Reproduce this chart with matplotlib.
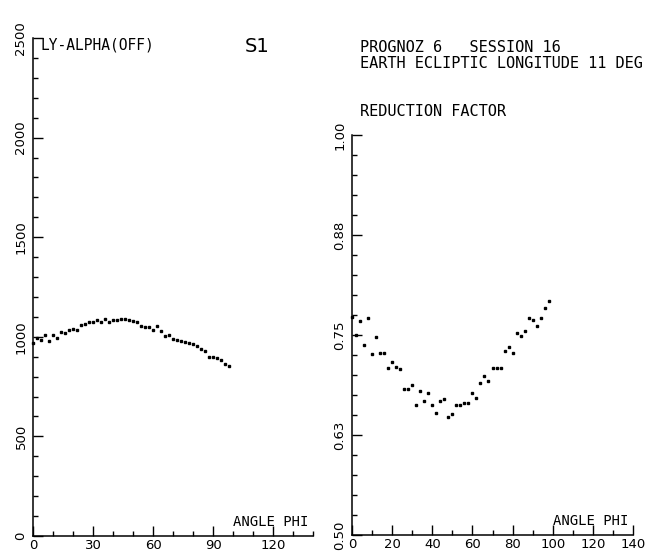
import matplotlib
matplotlib.use("Agg")
import matplotlib.pyplot as plt
from matplotlib.ticker import FixedLocator, FixedFormatter, MultipleLocator

# ---- data ----
phi = [0, 2, 4, 6, 8, 10, 12, 14, 16, 18, 20, 22, 24, 26, 28, 30, 32, 34, 36, 38,
       40, 42, 44, 46, 48, 50, 52, 54, 56, 58, 60, 62, 64, 66, 68, 70, 72, 74, 76, 78,
       80, 82, 84, 86, 88, 90, 92, 94, 96, 98]

ly_alpha = [968, 993, 983, 1008, 978, 1008, 993, 1022, 1017, 1033,
            1038, 1033, 1058, 1063, 1073, 1073, 1083, 1073, 1088, 1073,
            1083, 1083, 1087, 1087, 1085, 1080, 1072, 1055, 1050, 1047,
            1033, 1052, 1027, 1003, 1010, 988, 983, 980, 973, 967,
            962, 952, 938, 927, 897, 897, 893, 883, 863, 853]

reduction = [0.773, 0.750, 0.768, 0.738, 0.771, 0.726, 0.748, 0.728, 0.727, 0.709,
             0.716, 0.710, 0.708, 0.683, 0.683, 0.688, 0.663, 0.680, 0.668, 0.677,
             0.663, 0.652, 0.667, 0.670, 0.648, 0.651, 0.663, 0.663, 0.665, 0.665,
             0.678, 0.671, 0.690, 0.699, 0.693, 0.709, 0.709, 0.709, 0.730, 0.735,
             0.727, 0.752, 0.749, 0.755, 0.771, 0.769, 0.761, 0.771, 0.784, 0.793]

left_xticks = [0, 30, 60, 90, 120]
left_yticks = [0, 500, 1000, 1500, 2000, 2500]
right_xticks = [0, 20, 40, 60, 80, 100, 120, 140]
right_yticks = [0.5, 0.625, 0.75, 0.875, 1.0]
right_ytick_labels = ["0.50", "0.63", "0.75", "0.88", "1.00"]

W, H = 670, 554
fig = plt.figure(figsize=(W / 100, H / 100), dpi=100)

def px_axes(x0, x1, ytop, ybot):
    return fig.add_axes([x0 / W, (H - ybot) / H, (x1 - x0) / W, (ybot - ytop) / H])

mono = "DejaVu Sans Mono"

def style(ax):
    for s in ("top", "right"):
        ax.spines[s].set_visible(False)
    for s in ("left", "bottom"):
        ax.spines[s].set_linewidth(1.1)
    ax.tick_params(which="both", direction="in", width=1.0, colors="black",
                   labelsize=9.5)
    ax.tick_params(which="major", length=7)
    ax.tick_params(which="minor", length=3.5)
    ax.tick_params(axis="x", which="both", pad=2)
    ax.tick_params(axis="y", which="both", pad=4)
    for lab in ax.get_yticklabels():
        lab.set_rotation(90)
        lab.set_va("center")

# ---- left panel ----
axL = px_axes(33, 313, 38, 536)
axL.set_xlim(0, 140)
axL.set_ylim(0, 2500)
axL.plot(phi, ly_alpha, linestyle="none", marker="s", markersize=1.8,
         color="black", clip_on=False)
axL.xaxis.set_major_locator(FixedLocator(left_xticks))
axL.xaxis.set_minor_locator(MultipleLocator(10))
axL.yaxis.set_major_locator(FixedLocator(left_yticks))
axL.yaxis.set_minor_locator(MultipleLocator(100))
style(axL)

# ---- right panel ----
axR = px_axes(352, 633, 135, 535)
axR.set_xlim(0, 140)
axR.set_ylim(0.5, 1.0)
axR.plot(phi, reduction, linestyle="none", marker="s", markersize=1.8,
         color="black", clip_on=False)
axR.xaxis.set_major_locator(FixedLocator(right_xticks))
axR.xaxis.set_minor_locator(MultipleLocator(10))
axR.yaxis.set_major_locator(FixedLocator(right_yticks))
axR.yaxis.set_major_formatter(FixedFormatter(right_ytick_labels))
axR.yaxis.set_minor_locator(MultipleLocator(0.025))
style(axR)

# ---- annotations ----
fig.text(40 / W, 1 - 45 / H, "LY-ALPHA(OFF)", fontsize=10.5, family=mono,
         va="center", ha="left")
fig.text(245 / W, 1 - 46 / H, "S1", fontsize=14, va="center", ha="left")
fig.text(360 / W, 1 - 47 / H, "PROGNOZ 6   SESSION 16", fontsize=11, family=mono,
         va="center", ha="left")
fig.text(360 / W, 1 - 63 / H, "EARTH ECLIPTIC LONGITUDE 11 DEG", fontsize=11,
         family=mono, va="center", ha="left")
fig.text(360 / W, 1 - 112 / H, "REDUCTION FACTOR", fontsize=11, family=mono,
         va="center", ha="left")
fig.text(233 / W, 1 - 522 / H, "ANGLE PHI", fontsize=10, family=mono,
         va="center", ha="left")
fig.text(553 / W, 1 - 521 / H, "ANGLE PHI", fontsize=10, family=mono,
         va="center", ha="left")

fig.savefig("out.png", dpi=100)
